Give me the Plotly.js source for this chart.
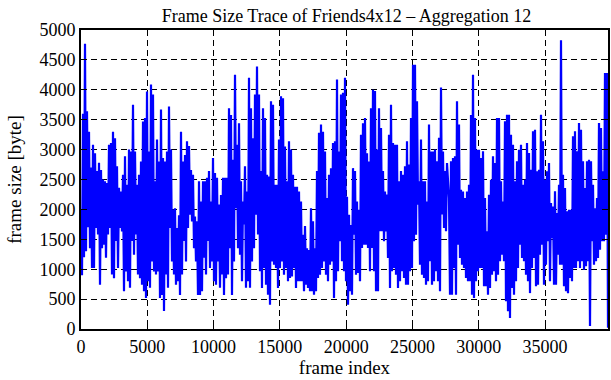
<!DOCTYPE html>
<html>
<head>
<meta charset="utf-8">
<script src="https://cdn.plot.ly/plotly-3.0.1.min.js"></script>
<style>html,body{margin:0;padding:0;background:#fff;}#chart{width:611px;height:380px;}</style>
</head>
<body>
<div id="chart"></div>
<script>
const framesA = [2000,900, 3600,1200, 4770,1300, 3640,1700, 3300,1350, 2700,1020, 3080,1020, 2940,1690, 2640,1580, 2780,740,
  2660,1350, 2500,1410, 2470,1190, 2440,1580, 3080,1690, 3110,910, 3300,850, 3190,1470, 2720,1020, 2360,1690,
  2300,1630, 2580,630, 2890,960, 2410,800, 3000,690, 2970,1470, 3750,1240, 2970,1580, 2410,910, 2580,850,
  2800,740, 3470,630, 3530,520, 3970,800, 2970,690, 4090,1130, 3920,960, 2470,910, 3170,960, 2800,520,
  3670,570, 2860,300, 2800,910, 2970,690, 3720,1690];
const framesB = [3000,1130, 2000,910, 2020,740, 1690,800, 1900,570, 3300,910, 2800,1470, 2910,1130, 3140,1690, 3060,1910,
  2660,1800, 2580,1350, 1880,1130, 1800,570, 2470,570, 2130,630, 2470,1190, 2470,910, 2530,1470, 2640,1020,
  2130,1130, 2860,800, 2610,740, 2530,1130, 2080,690, 2240,910, 2530,570, 2530,850, 2530,910, 3690,1350,
  3580,570, 2830,1130, 4250,2020, 3080,1350, 3440,1240, 2470,800, 2130,1750, 2720,690, 2300,800, 4200,690,
  3690,1130, 3190,1350, 3920,1910, 4390,1580];
const framesC = [3920,964, 2640,686, 3690,1020, 3530,741, 2580,574, 2550,407, 3810,1130, 3750,1075, 2410,1020, 2410,686,
  3170,1020, 3890,1130, 3860,909, 3050,1020, 2470,797, 3140,853, 3000,880, 2580,1020, 2380,686, 2380,797,
  2300,797, 2130,797, 1577,630, 1720,741, 1350,686, 1320,630, 2020,630, 1800,574, 1350,630, 2640,853,
  3280,909, 3420,1020, 3300,1130, 2970,909, 2190,797, 2580,1075, 2690,1130, 3110,518, 3140,797, 4170,964,
  2970,1466, 3920,1132, 3950,964, 4200,797];
const framesD = [2210,407, 1910,630, 1740,574, 2690,1577, 2640,909, 2130,936, 1995,797, 3250,1354, 3440,1410, 3530,1410,
  2940,1354, 2800,964, 3690,1354, 4000,964, 3980,630, 3000,630, 3690,1633, 3360,1633, 2640,1466, 2300,1633,
  2250,1187, 3250,686, 3750,964, 3110,1020, 3080,909, 3080,686, 2470,797, 2640,964, 2580,853, 2720,741,
  3140,741, 2750,964, 3530,1020, 4420,1466, 4420,1577, 3810,2080, 2470,1075, 3170,909, 2470,853, 2470,741,
  2130,797, 3420,1132, 2970,741, 2970,797];
const framesE = [3000,964, 2804,797, 3200,630, 4040,1916, 2970,1689, 2640,1633, 2776,2330, 2190,574, 2804,574, 2860,1020,
  2887,574, 3810,1410, 3420,1187, 2330,1075, 2300,1020, 2190,853, 2300,797, 2413,797, 3580,574, 4250,518,
  3528,797, 2999,964, 2999,1020, 2859,1020, 2971,714, 2190,714, 1633,574, 2245,686, 2497,909, 2887,964,
  2776,797, 3528,909, 3528,1132, 2469,1243, 2130,1132, 3473,463, 3584,295, 3584,184, 3250,686, 3082,574,
  2469,797, 2804,1020, 2999,1410, 3082,1187];
const framesF = [2413,1132, 2497,909, 3110,797, 2943,600, 2664,1020, 3305,1187, 3333,714, 2636,741, 2664,1243, 3584,1410,
  3138,741, 2497,1075, 2636,1466, 2776,797, 2106,1522, 2050,741, 2302,741, 1940,1243, 2413,1075, 4830,1075,
  2581,714, 2358,630, 1968,600, 1995,853, 1995,797, 3222,1020, 3305,1020, 2971,1132, 3445,1020, 3333,1132,
  2804,992, 2358,1048, 2804,1132, 2832,50, 2804,1466, 2413,1075, 2020,1132, 2190,1187, 3445,1326, 3361,1466,
  2636,1466, 4280,1577, 4280,20];

const lastFrameIndex = 39750;
const xTicks = [0, 5000, 10000, 15000, 20000, 25000, 30000, 35000];
const yTicks = [0, 500, 1000, 1500, 2000, 2500, 3000, 3500, 4000, 4500, 5000];

const frameSize = [].concat(framesA, framesB, framesC, framesD, framesE, framesF);
const frameIndex = frameSize.map((_, i) => i * lastFrameIndex / (frameSize.length - 1));

const FONT = 'Liberation Serif, Times New Roman, serif';

const axisCommon = {
  showline: true, mirror: 'ticks', linecolor: '#000', linewidth: 2,
  ticks: 'inside', ticklen: 6, tickwidth: 1, tickcolor: '#000',
  showgrid: true, gridcolor: '#000', gridwidth: 1, griddash: '6px,4px',
  zeroline: false, tickfont: {family: FONT, size: 18, color: '#000'},
  tickmode: 'array'
};

Plotly.newPlot('chart', [{
  x: frameIndex, y: frameSize, type: 'scatter', mode: 'lines',
  line: {color: '#0000ff', width: 2.2}, hoverinfo: 'skip'
}], {
  width: 611, height: 380,
  margin: {l: 81, r: 3, t: 30, b: 51, pad: 0},
  paper_bgcolor: '#fff', plot_bgcolor: '#fff',
  showlegend: false,
  title: {text: 'Frame Size Trace of Friends4x12 \u2013 Aggregation 12', x: 0.567, xanchor: 'center', y: 0.975, yanchor: 'top',
          font: {family: FONT, size: 18, color: '#000'}},
  xaxis: Object.assign({}, axisCommon, {
    range: [0, lastFrameIndex], tickvals: xTicks, ticktext: xTicks.map(String),
    title: {text: 'frame index', font: {family: FONT, size: 19, color: '#000'}, standoff: 4}
  }),
  yaxis: Object.assign({}, axisCommon, {
    range: [0, 5000], tickvals: yTicks, ticktext: yTicks.map(String),
    title: {text: 'frame size [byte]', font: {family: FONT, size: 19, color: '#000'}, standoff: 13}
  })
}, {staticPlot: true});
</script>
</body>
</html>
